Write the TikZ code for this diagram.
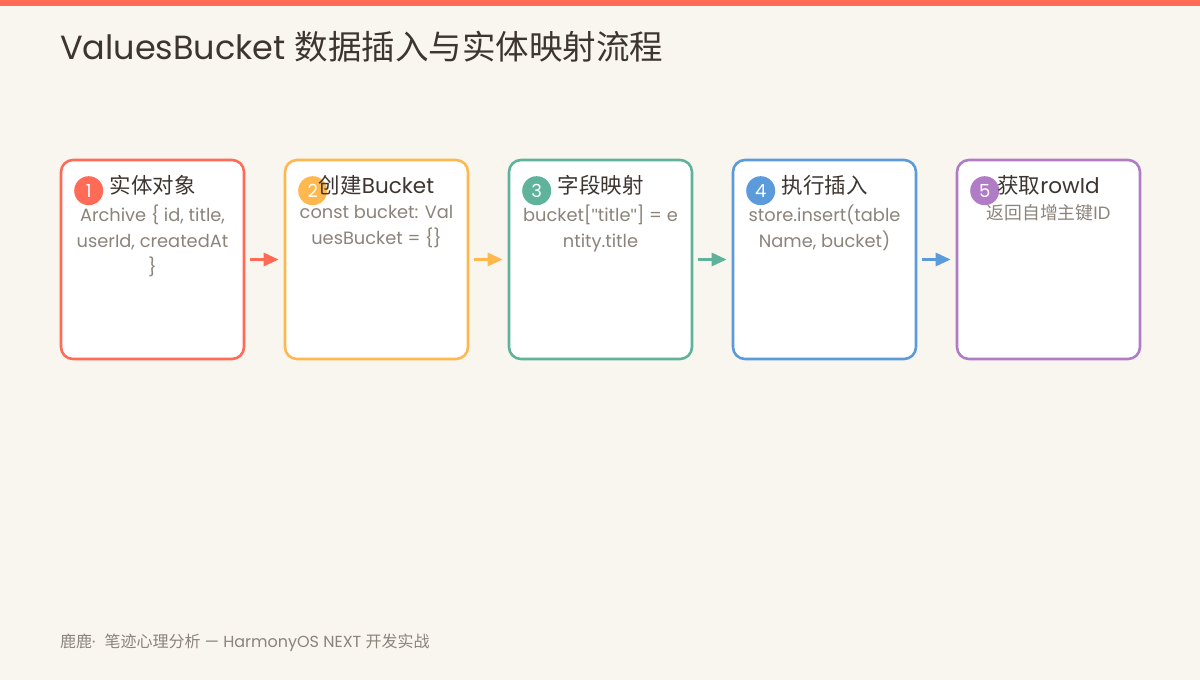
\documentclass[tikz,border=0pt]{standalone}
\usepackage{fontspec}
\setmainfont{Poppins}
\newfontfamily\cjk{Noto Sans CJK SC}
\newfontfamily\quotefont{Liberation Sans}
\usetikzlibrary{arrows.meta,positioning}

\definecolor{bgcream}{HTML}{F9F6F0}
\definecolor{topbar}{HTML}{FF6B55}
\definecolor{inkdark}{HTML}{3D3530}
\definecolor{inkgray}{HTML}{8C837B}
\definecolor{stepred}{HTML}{FF6B57}
\definecolor{stepyellow}{HTML}{FFB84D}
\definecolor{stepgreen}{HTML}{5FB39A}
\definecolor{stepblue}{HTML}{5B9BDB}
\definecolor{steppurple}{HTML}{B07CC6}

\newcommand\zh[1]{{\cjk #1}}
\newcommand\dq{{\quotefont\char34}}

\tikzset{
  stepbox/.style={draw=#1, line width=2.6, rounded corners=12, fill=white,
    minimum width=183, minimum height=199, inner sep=0},
  stepnum/.style={circle, fill=#1, text=white, minimum size=29, inner sep=0,
    font=\fontsize{18}{18}\selectfont},
  steptitle/.style={text=inkdark, inner sep=0, font=\fontsize{21.5}{24}\selectfont},
  stepsub/.style={text=inkgray, inner sep=0, align=center,
    font=\fontsize{17.8}{26}\selectfont},
  flow/.style={draw=#1, line width=2.8, -{Triangle[length=15,width=13]},
    shorten <=5, shorten >=5}
}

\begin{document}
\begin{tikzpicture}[x=1pt,y=-1pt]

  % page and top bar
  \fill[bgcream] (0,0) rectangle (1200,680);
  \useasboundingbox (0,0) rectangle (1200,680);
  \fill[topbar] (0,0) rectangle (1200,6);

  % title
  \node[anchor=west, inner sep=0, text=inkdark, font=\fontsize{33.5}{36}\selectfont]
    (title) at (60,47) {ValuesBucket \zh{数据插入与实体映射流程}};

  % steps
  \foreach \t/\s/\c [count=\i] in {
      {\zh{实体对象}}/{Archive \{ id, title,\\userId, createdAt\\\}}/stepred,
      {\zh{创建}Bucket}/{const bucket: Val\\uesBucket = \{\}}/stepyellow,
      {\zh{字段映射}}/{bucket[\dq title\dq] = e\\ntity.title}/stepgreen,
      {\zh{执行插入}}/{store.insert(table\\Name, bucket)}/stepblue,
      {\zh{获取}rowId}/{\zh{返回自增主键}ID}/steppurple}
  {
    \node[stepbox=\c] (box\i) at ({152.5+224*(\i-1)},259.5) {};
    \node[stepnum=\c] (num\i) at ([xshift=29,yshift=-32]box\i.north west) {\i};
    \node[steptitle] (head\i) at ([yshift=-27]box\i.north) {\t};
    \node[stepsub, anchor=north] (sub\i) at ([yshift=-46]box\i.north) {\s};
  }

  % flows between steps
  \draw[flow=stepred] (box1.east) -- (box2.west);
  \draw[flow=stepyellow] (box2.east) -- (box3.west);
  \draw[flow=stepgreen] (box3.east) -- (box4.west);
  \draw[flow=stepblue] (box4.east) -- (box5.west);

  % footer
  \node[anchor=west, inner sep=0, text=inkgray, font=\fontsize{16}{18}\selectfont]
    (footer) at (60,643) {\zh{鹿鹿}·\hspace{9pt}\zh{笔迹心理分析} — HarmonyOS NEXT \zh{开发实战}};

\end{tikzpicture}
\end{document}
